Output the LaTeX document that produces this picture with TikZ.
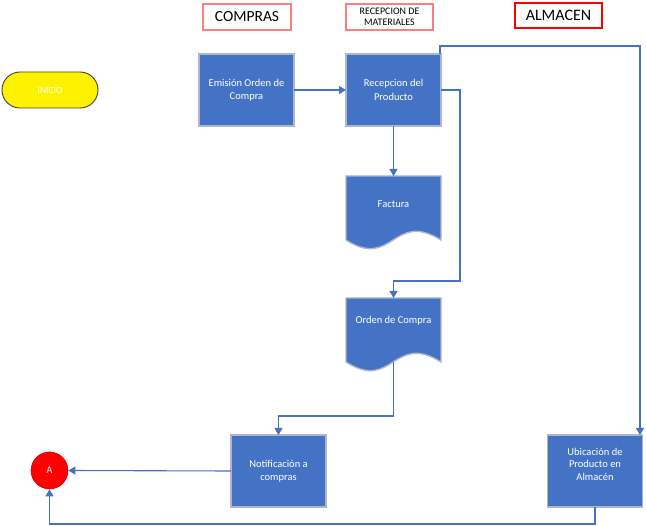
\documentclass[tikz,border=0pt]{standalone}
\usepackage{fontspec}
\setmainfont{Carlito}
\usetikzlibrary{arrows.meta,backgrounds}
\definecolor{boxblue}{RGB}{68,114,196}
\definecolor{boxedge}{RGB}{172,182,204}
\definecolor{linkblue}{RGB}{68,114,196}
\definecolor{softred}{RGB}{255,124,128}
\begin{document}
\begin{tikzpicture}[x=1pt,y=-1pt,
    proc/.style={fill=boxblue,draw=boxedge,line width=1.4pt,minimum width=95pt,minimum height=72pt,
      text=white,align=center,font=\fontsize{10.5}{13.5}\selectfont,outer sep=0pt},
    docbox/.style={minimum width=95pt,minimum height=64pt,anchor=north,text=white,align=center,
      font=\fontsize{10.5}{14}\selectfont,outer sep=0pt},
    lane/.style={draw=softred,line width=1.4pt,fill=white,minimum width=88pt,minimum height=26pt,align=center},
    flow/.style={draw=linkblue,line width=1.1pt,-{Triangle[width=8pt,length=7pt]}},
    link/.style={draw=linkblue,line width=1.1pt}]
  \useasboundingbox (0,0) rectangle (646,526);
  \node (compras) [lane,font=\fontsize{15.5}{18}\selectfont] at (247,17) {COMPRAS};
  \node (recmat) [lane,minimum width=87pt,font=\fontsize{10}{11.5}\selectfont] at (389.5,17) {RECEPCION DE\\MATERIALES};
  \node (almacen) [lane,draw=red,minimum width=87pt,minimum height=25pt,font=\fontsize{16}{18}\selectfont] at (558.5,15.5) {ALMACEN};
  \node (inicio) [fill=yellow,draw=black!75,line width=0.9pt,minimum width=96pt,minimum height=36pt,
    rounded corners=18pt,text=white,font=\fontsize{9.5}{11}\selectfont] at (50,90) {INICIO};
  \node (emi) [proc] at (246.5,90) {Emisión Orden de\\Compra};
  \node (rec) [proc] at (393.5,90) {Recepcion del\\Producto};
  \node (fac) [docbox,text depth=8pt] at (393.5,176) {Factura};
  \node (ord) [docbox,text depth=20pt] at (393.5,298) {Orden de Compra};
  \node (noti) [proc] at (278.5,471) {Notificación a\\compras};
  \node (ubi) [proc,font=\fontsize{10.5}{12.5}\selectfont,text depth=14pt] at (595,471) {Ubicación de\\Producto en\\Almacén};
  \node (a) [circle,fill=red,draw=red!85!black,line width=0.6pt,minimum size=37pt,inner sep=0pt,
    text=white,font=\fontsize{10.5}{12}\selectfont] at (49.5,470.5) {A};
  \begin{pgfonlayer}{background}
    \foreach \d in {fac,ord}
      \path[fill=boxblue,draw=boxedge,line width=1.4pt] (\d.north west) -- (\d.north east) -- (\d.south east)
        .. controls +(-48,-30) and +(47,30) .. (\d.south west) -- cycle;
  \end{pgfonlayer}
  \coordinate (c1) at (460,281);
  \coordinate (c2) at (640,46);
  \coordinate (c3) at (393.5,416);
  \draw[flow] (emi.east) -- (rec.west);
  \draw[flow] (rec.south) -- (fac.north);
  \draw[flow] (rec.east) -| (c1) -| (ord.north);
  \draw[flow] ([xshift=-1pt]rec.north east) |- (c2) -- (c2 |- ubi.north);
  \draw[flow] (ord.south) -- (c3) -| (noti.north);
  \draw[flow] (noti.west) -- (a.east);
  \draw[flow] (ubi.south) -- ++(0,17) -| (a.south);
\end{tikzpicture}
\end{document}
